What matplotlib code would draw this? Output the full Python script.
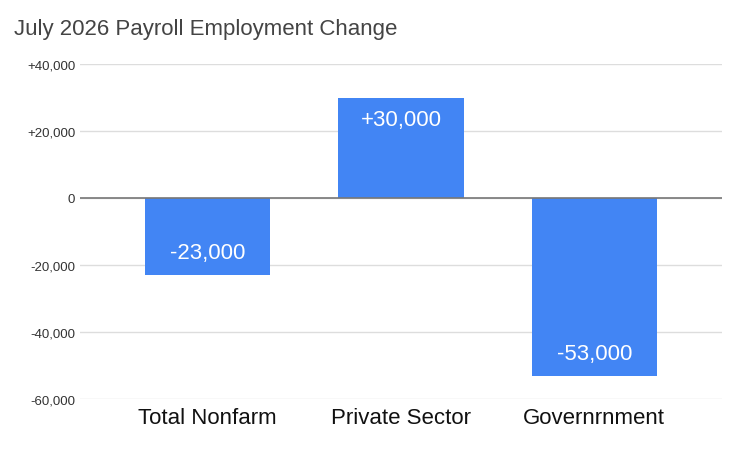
import matplotlib.pyplot as plt

plt.rcParams['font.family'] = ['Liberation Sans', 'DejaVu Sans']

categories = ['Total Nonfarm', 'Private Sector', 'Governrnment']
values = [-23000, 30000, -53000]
labels = ['-23,000', '+30,000', '-53,000']
yticks = [-60000, -40000, -20000, 0, 20000, 40000]
ytick_labels = ['-60,000', '-40,000', '-20,000', '0', '+20,000', '+40,000']

fig = plt.figure(figsize=(7.41, 4.56), dpi=100)
ax = fig.add_axes([80 / 741, 56 / 456, 642 / 741, 335 / 456])

x = range(len(categories))
bars = ax.bar(x, values, width=0.65, color='#4285F4', zorder=3)

for b, v, lab in zip(bars, values, labels):
    off = -16 if v > 0 else 16
    ax.annotate(lab, (b.get_x() + b.get_width() / 2, v), xytext=(0, off),
                textcoords='offset points', ha='center', va='center',
                color='white', fontsize=16, zorder=4)

ax.set_ylim(-60000, 40000)
ax.set_xlim(-0.66, 2.66)
ax.set_yticks(yticks)
ax.set_yticklabels(ytick_labels, fontsize=9.5, color='#333333')
ax.set_xticks(list(x))
ax.set_xticklabels(categories, fontsize=16, color='#111111')
ax.tick_params(length=0)
ax.tick_params(axis='x', pad=6)
ax.grid(axis='y', color='#dddddd', linewidth=1, zorder=0)
ax.axhline(0, color='#777777', linewidth=1.2, zorder=3)
for s in ax.spines.values():
    s.set_visible(False)

fig.text(14 / 741, 1 - 30 / 456, 'July 2026 Payroll Employment Change',
         fontsize=16, color='#444444', va='center')

fig.savefig('out.png', dpi=100)
